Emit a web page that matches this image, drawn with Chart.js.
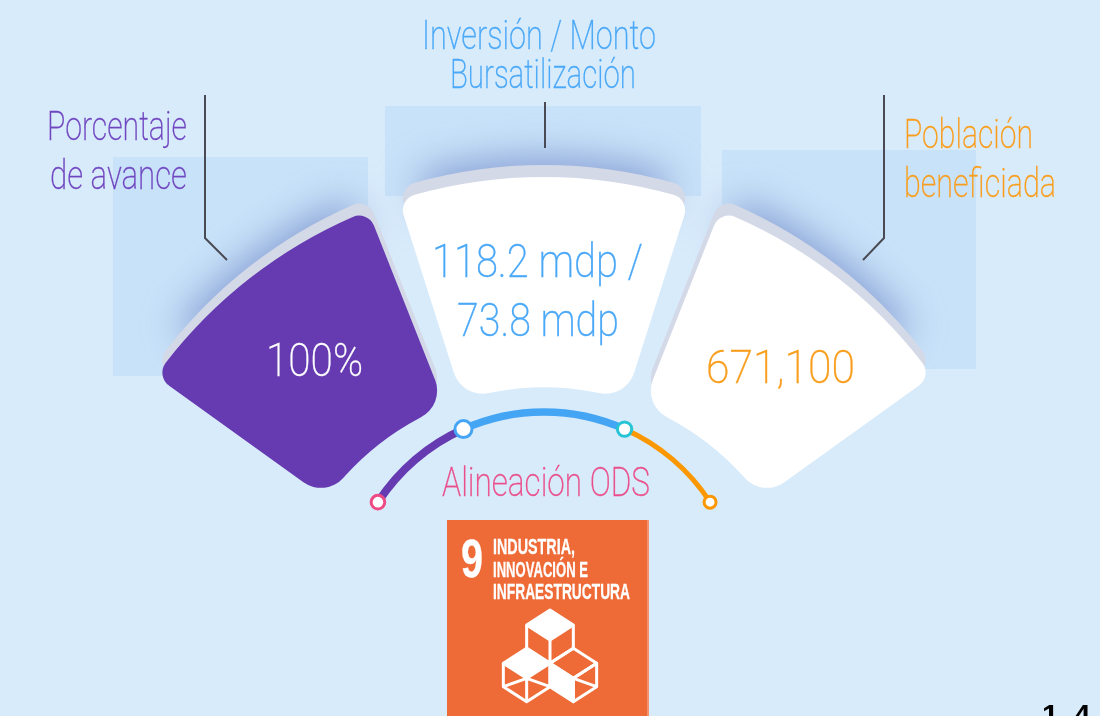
<!DOCTYPE html>
<html>
<head>
<meta charset="utf-8">
<script src="https://cdn.jsdelivr.net/npm/chart.js@4"></script>
<style>
  html, body { margin: 0; padding: 0; background: #d8ebfb; }
  #page { position: relative; width: 1100px; height: 716px; overflow: hidden; background: #d8ebfb; }
  #page canvas, #page svg { position: absolute; }
  .label { position: absolute; white-space: nowrap; font-family: Roboto, sans-serif; font-weight: 200; -webkit-text-stroke: .3px currentColor; transform-origin: left center; }
  #tile { position: absolute; left: 447px; top: 520px; width: 200px; height: 196px; background: #ee6a36; border-right: 2px solid #f5916b; }
</style>
</head>
<body>
<div id="page">
  <svg width="1100" height="716" style="left:0;top:0">
    <rect x="113" y="157" width="255" height="219" fill="#c8e2f9"/>
    <rect x="385" y="106" width="316" height="90" fill="#c8e2f9"/>
    <rect x="722" y="150" width="254" height="219" fill="#c8e2f9"/>
  </svg>
  <canvas id="shadowRing" width="1000" height="1000" style="left:44px;top:143px;filter:blur(19px)"></canvas>
  <canvas id="bandRing" width="960" height="960" style="left:64px;top:163px"></canvas>
  <canvas id="segmentRing" width="960" height="960" style="left:64px;top:175px"></canvas>
  <canvas id="odsArc" width="440" height="440" style="left:324px;top:390px"></canvas>
  <svg width="1100" height="716" style="left:0;top:0" fill="none" stroke="#4a4a55" stroke-width="2">
    <polyline points="205,95 205,238 227,260"/>
    <line x1="545" y1="102" x2="545" y2="148"/>
    <polyline points="884,95 884,238 863,260"/>
  </svg>
  <div id="tile"></div>
  <svg width="215" height="201" viewBox="0 0 645 603" style="left:440px;top:515px;filter:blur(.5px)" fill="none" stroke="#fff" stroke-width="9" stroke-linejoin="round">
    <path d="M330 285 L400 330 L330 375 L260 330 Z" fill="#fff"/>
    <path d="M260 330 V400 M400 330 V400 M330 375 V445 M260 400 L330 445 L400 400"/>
    <path d="M260 400 L330 445 L260 490 L190 445 Z" fill="#fff"/>
    <path d="M190 445 V515 L260 560 L330 515 V445 M260 490 V560 M190 515 L260 490 L330 515"/>
    <path d="M400 400 L470 445 L400 490 L330 445 Z"/>
    <path d="M470 445 V515 L400 560 V490 Z M400 490 L470 515"/>
    <path d="M330 445 L400 490 V560 L330 515 Z" fill="#fff"/>
  </svg>
  <div id="labels"></div>
</div>
<script>
// Angular spans in degrees
const segmentSpans = [32.7, 35.4, 32.7];
const segmentGaps = [3.9, 3.9];
const segmentColors = ['#663ab1', '#ffffff', '#ffffff'];
const bandColor = '#d4d9e8';

const shadowSpans = [25, 30, 25];
const shadowGaps = [9, 9];

const odsSpans = [33, 48, 33];
const odsColors = ['#663ab1', '#45a5f5', '#fb9700'];
const odsWidths = [7, 6.5, 4];
const odsMarkerColors = ['#ee4b85', '#45a5f5', '#26c4d4', '#fb9700'];
const odsMarkerSizes = [6.8, 8.5, 7.2, 6];

function withGaps(spans, gaps) {
    const out = [];
    spans.forEach((span, i) => {
        out.push(span);
        if (i < gaps.length) out.push(gaps[i]);
    });
    const used = out.reduce((a, b) => a + b, 0);
    out.push(360 - used);
    return out;
}

function colorsWithGaps(colors) {
    const out = [];
    colors.forEach((c, i) => {
        out.push(c);
        out.push('rgba(0,0,0,0)');
    });
    return out;
}

function ring(id, data, colors, opts) {
    return new Chart(document.getElementById(id), {
        type: 'doughnut',
        data: {
            datasets: [{
                data: data,
                backgroundColor: colors,
                borderWidth: 0,
                borderRadius: opts.borderRadius || 0
            }]
        },
        options: {
            responsive: false,
            animation: false,
            events: [],
            rotation: opts.rotation,
            radius: opts.radius,
            cutout: opts.cutout,
            plugins: { legend: { display: false }, tooltip: { enabled: false } }
        }
    });
}

const mainData = withGaps(segmentSpans, segmentGaps);
const corners = { outerStart: 16, outerEnd: 16, innerStart: 30, innerEnd: 30 };

ring('shadowRing', withGaps(shadowSpans, shadowGaps), colorsWithGaps(['#8198d0', '#8198d0', '#8198d0']), {
    rotation: -49, radius: 484, cutout: '92%'
});
ring('bandRing', mainData, colorsWithGaps([bandColor, bandColor, bandColor]), {
    rotation: -54.3, radius: 478, cutout: '56%', borderRadius: corners
});
ring('segmentRing', mainData, colorsWithGaps(segmentColors), {
    rotation: -54.3, radius: 478, cutout: '56%', borderRadius: corners
});

// Round markers sit on the arc ends, taken from the chart's own arc elements
const odsMarkers = {
    id: 'odsMarkers',
    afterDatasetsDraw(chart) {
        const arcs = chart.getDatasetMeta(0).data.slice(0, odsSpans.length);
        const points = arcs.map(a => [a.x, a.y, a.startAngle, (a.innerRadius + a.outerRadius) / 2]);
        const last = arcs[arcs.length - 1];
        points.push([last.x, last.y, last.endAngle, (last.innerRadius + last.outerRadius) / 2]);
        const ctx = chart.ctx;
        points.forEach((p, i) => {
            ctx.beginPath();
            ctx.arc(p[0] + Math.cos(p[2]) * p[3], p[1] + Math.sin(p[2]) * p[3], odsMarkerSizes[i], 0, Math.PI * 2);
            ctx.fillStyle = '#fff';
            ctx.fill();
            ctx.lineWidth = 3;
            ctx.strokeStyle = odsMarkerColors[i];
            ctx.stroke();
        });
    }
};

const odsData = odsSpans.slice();
odsData.push(360 - odsSpans.reduce((a, b) => a + b, 0));
const odsChart = new Chart(document.getElementById('odsArc'), {
    type: 'doughnut',
    data: {
        datasets: [{
            data: odsData,
            backgroundColor: odsColors.concat('rgba(0,0,0,0)'),
            borderColor: odsColors.concat('rgba(0,0,0,0)'),
            borderWidth: odsWidths.concat(0)
        }]
    },
    options: {
        responsive: false,
        animation: false,
        events: [],
        rotation: -57,
        radius: 198.5,
        cutout: '99.5%',
        plugins: { legend: { display: false }, tooltip: { enabled: false } }
    },
    plugins: [odsMarkers]
});

// text, left, centre y, fitted width, font size, colour
const purpleText = '#7046c0', blueText = '#4aa8f7', orangeText = '#f99d1c', pinkText = '#ea4f8b';
const labels = [
    ['Porcentaje', 47, 127, 140, 40, purpleText],
    ['de avance', 50, 176, 137, 40, purpleText],
    ['Inversión / Monto', 422, 36, 234, 40, blueText],
    ['Bursatilización', 450, 75, 186, 40, blueText],
    ['Población', 904, 135, 129, 40, orangeText],
    ['beneficiada', 904, 184, 152, 40, orangeText],
    ['100%', 266, 360, 97, 46, '#ffffff'],
    ['118.2 mdp /', 432, 261, 211, 46, blueText],
    ['73.8 mdp', 457, 320, 162, 46, blueText],
    ['671,100', 706, 367, 149, 46, orangeText],
    ['Alineación ODS', 442, 483, 208, 40, pinkText]
];
const tileLabels = [
    ['9', 461, 558, 22, 54],
    ['INDUSTRIA,', 493, 547, 82, 22],
    ['INNOVACIÓN E', 493, 570, 95, 22],
    ['INFRAESTRUCTURA', 493, 592, 137, 22]
];

const holder = document.getElementById('labels');
function placeText(text, x, cy, w, size, color, weight, family) {
    const el = document.createElement('div');
    el.className = 'label';
    el.textContent = text;
    el.style.left = x + 'px';
    el.style.top = (cy - size / 2) + 'px';
    el.style.fontSize = size + 'px';
    el.style.lineHeight = size + 'px';
    el.style.color = color;
    if (weight) el.style.fontWeight = weight;
    if (family) el.style.fontFamily = family;
    holder.appendChild(el);
    el.style.transform = 'scaleX(' + (w / el.getBoundingClientRect().width) + ')';
}
labels.forEach(l => placeText(l[0], l[1], l[2], l[3], l[4], l[5]));
tileLabels.forEach(l => placeText(l[0], l[1], l[2], l[3], l[4], '#ffffff', 700, '"Liberation Sans"'));

// page number, cut off by the bottom edge
const pageNo = document.createElement('div');
pageNo.textContent = '14';
pageNo.style.cssText = 'position:absolute;left:1042px;top:700px;font:700 30px/30px "Liberation Sans";letter-spacing:15px;color:#000';
document.getElementById('page').appendChild(pageNo);
</script>
</body>
</html>
